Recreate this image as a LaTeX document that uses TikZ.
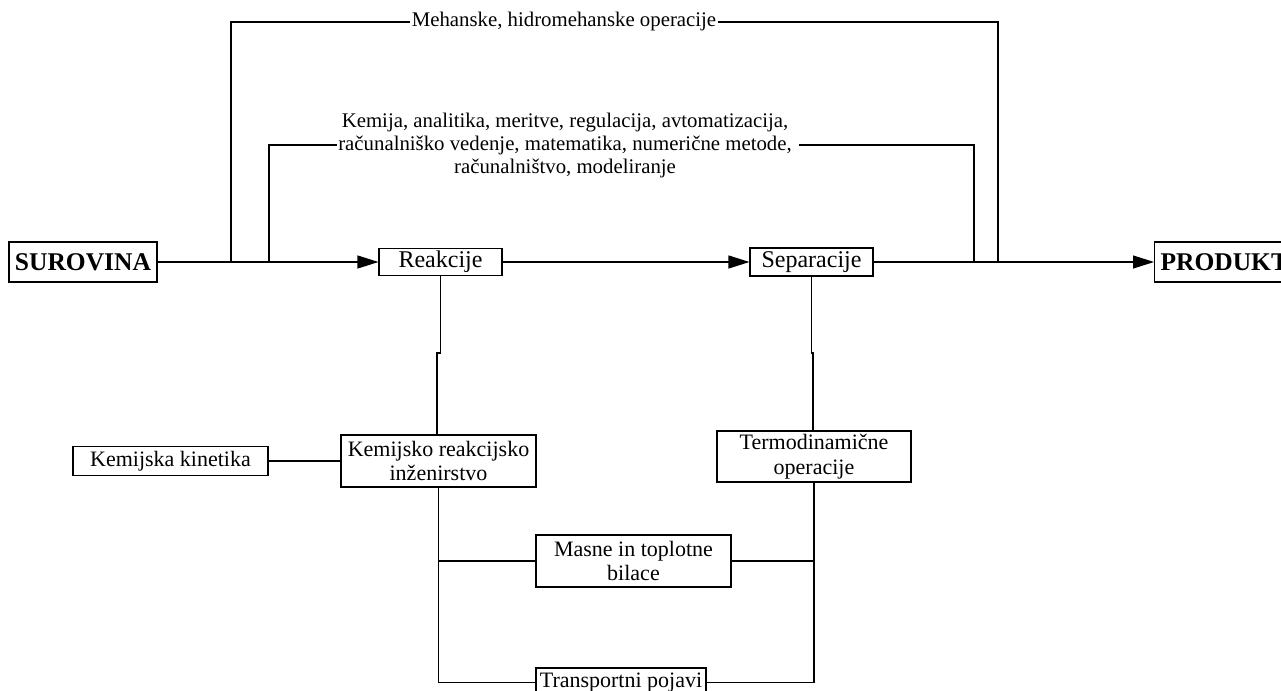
\documentclass[tikz,border=0pt]{standalone}
\usepackage{fontspec}
\setmainfont{Liberation Serif}
\usetikzlibrary{arrows.meta}

\begin{document}
\begin{tikzpicture}[x=1pt,y=-1pt,line width=1.1pt,
  box/.style={draw,rectangle,inner sep=0pt,align=center,font=\fontsize{22}{24.5}\selectfont},
  midbox/.style={draw,rectangle,inner sep=0pt,font=\fontsize{24}{26}\selectfont},
  endbox/.style={draw,rectangle,inner sep=0pt,minimum height=40pt,font=\fontsize{25.5}{28}\selectfont\bfseries},
  lbl/.style={inner sep=1pt,align=center,font=\fontsize{20.8}{23}\selectfont},
  flow/.style={-{Triangle[length=21pt,width=13pt]}}]
\useasboundingbox (0,0) rectangle (1281,690);
\node[endbox,minimum width=148pt] (sur) at (83,262) {SUROVINA};
\node[endbox,anchor=west,inner xsep=6pt] (prod) at (1154,262) {PRODUKT};
\node[midbox,minimum width=123pt,minimum height=27pt] (reak) at (440.5,262) {Reakcije};
\node[midbox,minimum width=123pt,minimum height=28pt] (sep) at (811.5,262) {Separacije};
\node[box,minimum width=195pt,minimum height=29pt] (kin) at (170.5,461) {Kemijska kinetika};
\node[box,minimum width=195pt,minimum height=52pt] (kri) at (438.5,461) {Kemijsko reakcijsko\\inženirstvo};
\node[box,minimum width=194pt,minimum height=51pt] (termo) at (814,456.5) {Termodinamične\\operacije};
\node[box,minimum width=195pt,minimum height=52pt] (masne) at (633.5,561) {Masne in toplotne\\bilace};
\node[box,minimum width=170pt,minimum height=29pt] (trans) at (621,682.5) {Transportni pojavi};
\node[lbl] (meh) at (564,22) {Mehanske, hidromehanske operacije};
\node[lbl] (kem) at (565,145) {Kemija, analitika, meritve, regulacija, avtomatizacija,\\računalniško vedenje, matematika, numerične metode,\\računalništvo, modeliranje};
\coordinate (a1) at (231,262); \coordinate (a2) at (998,262);
\coordinate (b1) at (269,262); \coordinate (b2) at (974,262);
\coordinate (jr) at (437,353); \coordinate (js) at (813,353);
\draw[flow] (sur) -- (reak); \draw[flow] (reak) -- (sep); \draw[flow] (sep) -- (prod);
\draw (a1) |- (meh.west); \draw (meh.east) -| (a2); \draw[line width=2pt] (a2) -- ++(15,0);
\draw (b1) |- (kem.west); \draw ([xshift=6pt]kem.east) -| (b2);
\draw (reak.south) |- (jr) -- (jr |- kri.north); \draw (sep.south) |- (js) -- (js |- termo.north);
\draw (kin) -- (kri);
\draw (kri.south) |- (trans.west); \draw (kri.south |- masne.west) -- (masne.west);
\draw (termo.south) |- (trans.east); \draw (masne.east) -- (masne.east -| termo.south);
\end{tikzpicture}
\end{document}
